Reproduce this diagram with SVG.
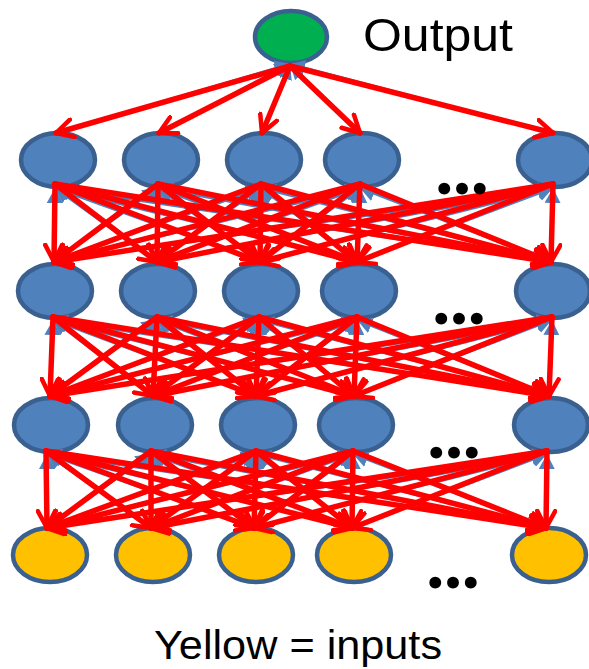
<svg xmlns="http://www.w3.org/2000/svg" width="589" height="669" viewBox="0 0 589 669">
<style>
.n{stroke:#3A6090;stroke-width:4.5}
.h{fill:#4F81BD}
.o{fill:#00B050}
.y{fill:#FFC000}
.r line{stroke:#FF0000;stroke-width:5.5;stroke-linecap:round;marker-end:url(#ra)}
.b line{stroke:#4F81BD;stroke-width:2.5;marker-end:url(#ba)}
.t{font-family:"Liberation Sans",Arial,sans-serif;fill:#000}
.d{font-family:Lato,"Liberation Sans",sans-serif;font-weight:bold;font-size:78px;fill:#000}
</style>
<defs>
<marker id="ra" viewBox="0 0 22 22" refX="19" refY="11" markerWidth="22" markerHeight="22" markerUnits="userSpaceOnUse" orient="auto">
<path d="M2,2 L19,11 L2,20" fill="none" stroke="#FF0000" stroke-width="4.5" stroke-linecap="round" stroke-linejoin="round"/>
</marker>
<marker id="ba" viewBox="0 0 16 16" refX="15" refY="8" markerWidth="16" markerHeight="16" markerUnits="userSpaceOnUse" orient="auto">
<path d="M0,0 L15,8 L0,16 z" fill="#4F81BD"/>
</marker>
</defs>

<g id="out"><ellipse class="n o" cx="291" cy="37" rx="36" ry="26"/></g>
<g id="h1a"><ellipse class="n h" cx="58" cy="160" rx="37" ry="27"/></g>
<g id="h1b"><ellipse class="n h" cx="161" cy="160" rx="37" ry="27"/></g>
<g id="h1c"><ellipse class="n h" cx="264" cy="160" rx="37" ry="27"/></g>
<g id="h1d"><ellipse class="n h" cx="362" cy="160" rx="37" ry="27"/></g>
<g id="h1e"><ellipse class="n h" cx="555" cy="160" rx="37" ry="27"/></g>
<g id="h2a"><ellipse class="n h" cx="55" cy="291" rx="37" ry="27"/></g>
<g id="h2b"><ellipse class="n h" cx="158" cy="291" rx="37" ry="27"/></g>
<g id="h2c"><ellipse class="n h" cx="261" cy="291" rx="37" ry="27"/></g>
<g id="h2d"><ellipse class="n h" cx="359" cy="291" rx="37" ry="27"/></g>
<g id="h2e"><ellipse class="n h" cx="553" cy="291" rx="37" ry="27"/></g>
<g id="h3a"><ellipse class="n h" cx="51" cy="425" rx="37" ry="27"/></g>
<g id="h3b"><ellipse class="n h" cx="155" cy="425" rx="37" ry="27"/></g>
<g id="h3c"><ellipse class="n h" cx="258" cy="425" rx="37" ry="27"/></g>
<g id="h3d"><ellipse class="n h" cx="356" cy="425" rx="37" ry="27"/></g>
<g id="h3e"><ellipse class="n h" cx="551" cy="425" rx="37" ry="27"/></g>
<g id="i1"><ellipse class="n y" cx="50" cy="555" rx="37" ry="27"/></g>
<g id="i2"><ellipse class="n y" cx="153" cy="555" rx="37" ry="27"/></g>
<g id="i3"><ellipse class="n y" cx="256" cy="555" rx="37" ry="27"/></g>
<g id="i4"><ellipse class="n y" cx="354" cy="555" rx="37" ry="27"/></g>
<g id="i5"><ellipse class="n y" cx="549" cy="555" rx="37" ry="27"/></g>

<g id="connectors">
<g class="b">
<line x1="56" y1="133" x2="290" y2="64"/><line x1="159" y1="133" x2="290" y2="64"/><line x1="262" y1="133" x2="290" y2="64"/><line x1="360" y1="133" x2="290" y2="64"/><line x1="553" y1="133" x2="290" y2="64"/>
<line x1="54" y1="262" x2="55" y2="188"/><line x1="157" y1="262" x2="55" y2="188"/><line x1="260" y1="262" x2="55" y2="188"/><line x1="357" y1="262" x2="55" y2="188"/><line x1="551" y1="262" x2="55" y2="188"/>
<line x1="54" y1="262" x2="158" y2="188"/><line x1="157" y1="262" x2="158" y2="188"/><line x1="260" y1="262" x2="158" y2="188"/><line x1="357" y1="262" x2="158" y2="188"/><line x1="551" y1="262" x2="158" y2="188"/>
<line x1="54" y1="262" x2="261" y2="188"/><line x1="157" y1="262" x2="261" y2="188"/><line x1="260" y1="262" x2="261" y2="188"/><line x1="357" y1="262" x2="261" y2="188"/><line x1="551" y1="262" x2="261" y2="188"/>
<line x1="54" y1="262" x2="360" y2="188"/><line x1="157" y1="262" x2="360" y2="188"/><line x1="260" y1="262" x2="360" y2="188"/><line x1="357" y1="262" x2="360" y2="188"/><line x1="551" y1="262" x2="360" y2="188"/>
<line x1="54" y1="262" x2="553" y2="188"/><line x1="157" y1="262" x2="553" y2="188"/><line x1="260" y1="262" x2="553" y2="188"/><line x1="357" y1="262" x2="553" y2="188"/><line x1="551" y1="262" x2="553" y2="188"/>
<line x1="50" y1="396" x2="53" y2="320"/><line x1="153" y1="396" x2="53" y2="320"/><line x1="256" y1="396" x2="53" y2="320"/><line x1="354" y1="396" x2="53" y2="320"/><line x1="549" y1="396" x2="53" y2="320"/>
<line x1="50" y1="396" x2="157" y2="320"/><line x1="153" y1="396" x2="157" y2="320"/><line x1="256" y1="396" x2="157" y2="320"/><line x1="354" y1="396" x2="157" y2="320"/><line x1="549" y1="396" x2="157" y2="320"/>
<line x1="50" y1="396" x2="259" y2="320"/><line x1="153" y1="396" x2="259" y2="320"/><line x1="256" y1="396" x2="259" y2="320"/><line x1="354" y1="396" x2="259" y2="320"/><line x1="549" y1="396" x2="259" y2="320"/>
<line x1="50" y1="396" x2="357" y2="320"/><line x1="153" y1="396" x2="357" y2="320"/><line x1="256" y1="396" x2="357" y2="320"/><line x1="354" y1="396" x2="357" y2="320"/><line x1="549" y1="396" x2="357" y2="320"/>
<line x1="50" y1="396" x2="552" y2="320"/><line x1="153" y1="396" x2="552" y2="320"/><line x1="256" y1="396" x2="552" y2="320"/><line x1="354" y1="396" x2="552" y2="320"/><line x1="549" y1="396" x2="552" y2="320"/>
<line x1="47" y1="528" x2="47" y2="454"/><line x1="151" y1="528" x2="47" y2="454"/><line x1="254" y1="528" x2="47" y2="454"/><line x1="352" y1="528" x2="47" y2="454"/><line x1="546" y1="528" x2="47" y2="454"/>
<line x1="47" y1="528" x2="151" y2="454"/><line x1="151" y1="528" x2="151" y2="454"/><line x1="254" y1="528" x2="151" y2="454"/><line x1="352" y1="528" x2="151" y2="454"/><line x1="546" y1="528" x2="151" y2="454"/>
<line x1="47" y1="528" x2="256" y2="454"/><line x1="151" y1="528" x2="256" y2="454"/><line x1="254" y1="528" x2="256" y2="454"/><line x1="352" y1="528" x2="256" y2="454"/><line x1="546" y1="528" x2="256" y2="454"/>
<line x1="47" y1="528" x2="353" y2="454"/><line x1="151" y1="528" x2="353" y2="454"/><line x1="254" y1="528" x2="353" y2="454"/><line x1="352" y1="528" x2="353" y2="454"/><line x1="546" y1="528" x2="353" y2="454"/>
<line x1="47" y1="528" x2="547" y2="454"/><line x1="151" y1="528" x2="547" y2="454"/><line x1="254" y1="528" x2="547" y2="454"/><line x1="352" y1="528" x2="547" y2="454"/><line x1="546" y1="528" x2="547" y2="454"/>
</g>
<g class="r">
<line x1="290" y1="66" x2="56" y2="133"/><line x1="290" y1="66" x2="159" y2="133"/><line x1="290" y1="66" x2="262" y2="133"/><line x1="290" y1="66" x2="360" y2="133"/><line x1="290" y1="66" x2="553" y2="133"/>
<line x1="55" y1="184" x2="54" y2="262"/><line x1="55" y1="184" x2="157" y2="262"/><line x1="55" y1="184" x2="260" y2="262"/><line x1="55" y1="184" x2="357" y2="262"/><line x1="55" y1="184" x2="551" y2="262"/>
<line x1="158" y1="184" x2="54" y2="262"/><line x1="158" y1="184" x2="157" y2="262"/><line x1="158" y1="184" x2="260" y2="262"/><line x1="158" y1="184" x2="357" y2="262"/><line x1="158" y1="184" x2="551" y2="262"/>
<line x1="261" y1="184" x2="54" y2="262"/><line x1="261" y1="184" x2="157" y2="262"/><line x1="261" y1="184" x2="260" y2="262"/><line x1="261" y1="184" x2="357" y2="262"/><line x1="261" y1="184" x2="551" y2="262"/>
<line x1="360" y1="184" x2="54" y2="262"/><line x1="360" y1="184" x2="157" y2="262"/><line x1="360" y1="184" x2="260" y2="262"/><line x1="360" y1="184" x2="357" y2="262"/><line x1="360" y1="184" x2="551" y2="262"/>
<line x1="553" y1="184" x2="54" y2="262"/><line x1="553" y1="184" x2="157" y2="262"/><line x1="553" y1="184" x2="260" y2="262"/><line x1="553" y1="184" x2="357" y2="262"/><line x1="553" y1="184" x2="551" y2="262"/>
<line x1="53" y1="317" x2="50" y2="396"/><line x1="53" y1="317" x2="153" y2="396"/><line x1="53" y1="317" x2="256" y2="396"/><line x1="53" y1="317" x2="354" y2="396"/><line x1="53" y1="317" x2="549" y2="396"/>
<line x1="157" y1="317" x2="50" y2="396"/><line x1="157" y1="317" x2="153" y2="396"/><line x1="157" y1="317" x2="256" y2="396"/><line x1="157" y1="317" x2="354" y2="396"/><line x1="157" y1="317" x2="549" y2="396"/>
<line x1="259" y1="317" x2="50" y2="396"/><line x1="259" y1="317" x2="153" y2="396"/><line x1="259" y1="317" x2="256" y2="396"/><line x1="259" y1="317" x2="354" y2="396"/><line x1="259" y1="317" x2="549" y2="396"/>
<line x1="357" y1="317" x2="50" y2="396"/><line x1="357" y1="317" x2="153" y2="396"/><line x1="357" y1="317" x2="256" y2="396"/><line x1="357" y1="317" x2="354" y2="396"/><line x1="357" y1="317" x2="549" y2="396"/>
<line x1="552" y1="317" x2="50" y2="396"/><line x1="552" y1="317" x2="153" y2="396"/><line x1="552" y1="317" x2="256" y2="396"/><line x1="552" y1="317" x2="354" y2="396"/><line x1="552" y1="317" x2="549" y2="396"/>
<line x1="46" y1="451" x2="47" y2="528"/><line x1="46" y1="451" x2="151" y2="528"/><line x1="46" y1="451" x2="254" y2="528"/><line x1="46" y1="451" x2="352" y2="528"/><line x1="46" y1="451" x2="546" y2="528"/>
<line x1="151" y1="451" x2="47" y2="528"/><line x1="151" y1="451" x2="151" y2="528"/><line x1="151" y1="451" x2="254" y2="528"/><line x1="151" y1="451" x2="352" y2="528"/><line x1="151" y1="451" x2="546" y2="528"/>
<line x1="256" y1="451" x2="47" y2="528"/><line x1="256" y1="451" x2="151" y2="528"/><line x1="256" y1="451" x2="254" y2="528"/><line x1="256" y1="451" x2="352" y2="528"/><line x1="256" y1="451" x2="546" y2="528"/>
<line x1="353" y1="451" x2="47" y2="528"/><line x1="353" y1="451" x2="151" y2="528"/><line x1="353" y1="451" x2="254" y2="528"/><line x1="353" y1="451" x2="352" y2="528"/><line x1="353" y1="451" x2="546" y2="528"/>
<line x1="547" y1="451" x2="47" y2="528"/><line x1="547" y1="451" x2="151" y2="528"/><line x1="547" y1="451" x2="254" y2="528"/><line x1="547" y1="451" x2="352" y2="528"/><line x1="547" y1="451" x2="546" y2="528"/>
</g>
</g>

<g id="labels">
<text class="t" x="363" y="51" font-size="47" textLength="150" lengthAdjust="spacingAndGlyphs">Output</text>
<text class="t" x="154" y="659" font-size="41" textLength="288" lengthAdjust="spacingAndGlyphs">Yellow = inputs</text>
<text class="d" x="435" y="194" textLength="54">...</text>
<text class="d" x="432" y="324" textLength="54">...</text>
<text class="d" x="427" y="458" textLength="54">...</text>
<text class="d" x="426" y="588" textLength="54">...</text>
</g>
</svg>
